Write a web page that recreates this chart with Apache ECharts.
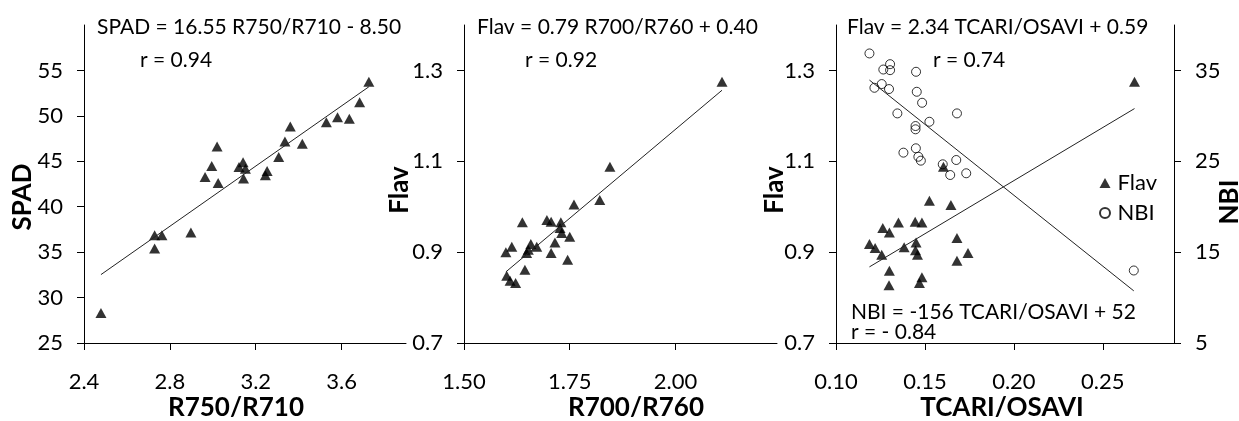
<!DOCTYPE html>
<html>
<head>
<meta charset="utf-8">
<script src="https://cdn.jsdelivr.net/npm/echarts@6/dist/echarts.min.js"></script>
<style>
  html, body { margin: 0; padding: 0; background: #fff; }
  #chart { width: 1239px; height: 421px; }
</style>
</head>
<body>
<div id="chart"></div>
<script>
// panel 1: SPAD vs R750/R710
const r750 = [2.479, 2.729, 2.729, 2.763, 2.898, 2.964, 2.995, 3.020, 3.025, 3.122, 3.141, 3.152,
  3.143, 3.245, 3.253, 3.307, 3.336, 3.361, 3.417, 3.529, 3.581, 3.636, 3.684, 3.727]
const spad = [28.3, 36.87, 35.4, 36.87, 37.17, 43.27, 44.47, 46.63, 42.6, 44.36, 44.9, 44.19,
  43.1, 43.45, 43.93, 45.46, 47.18, 48.83, 46.93, 49.3, 49.85, 49.67, 51.49, 53.75]

// panel 2: Flav vs R700/R760
const r700 = [1.638, 1.696, 1.706, 1.729, 1.760, 1.727, 1.731, 1.750, 1.715, 1.706, 1.745, 1.658,
  1.672, 1.652, 1.648, 1.613, 1.599, 1.644, 1.601, 1.609, 1.622, 1.821, 1.845, 2.110]
const flav2 = [0.966, 0.971, 0.967, 0.966, 1.005, 0.953, 0.942, 0.934, 0.921, 0.898, 0.883, 0.918,
  0.912, 0.905, 0.898, 0.912, 0.900, 0.861, 0.848, 0.837, 0.832, 1.015, 1.088, 1.275]

// panel 3: Flav and NBI vs TCARI/OSAVI
const tcariF = [0.1525, 0.1646, 0.1351, 0.1445, 0.1483, 0.1263, 0.1300, 0.1188, 0.1220, 0.1257, 0.1383, 0.1450,
  0.1447, 0.1458, 0.1680, 0.1742, 0.1680, 0.1300, 0.1298, 0.1483, 0.1469, 0.1604, 0.2678]
const flav3 = [1.013, 1.004, 0.965, 0.967, 0.965, 0.953, 0.943, 0.918, 0.909, 0.894, 0.911, 0.921,
  0.904, 0.894, 0.931, 0.898, 0.881, 0.859, 0.827, 0.845, 0.832, 1.088, 1.275]
const tcariN = [0.1188, 0.1304, 0.1266, 0.1304, 0.1450, 0.1257, 0.1216, 0.1298, 0.1454, 0.1484, 0.1345, 0.1680,
  0.1525, 0.1447, 0.1447, 0.1379, 0.1449, 0.1463, 0.1477, 0.1600, 0.1676, 0.1642, 0.1732, 0.2674]
const nbi = [36.87, 35.69, 35.1, 35.03, 34.85, 33.5, 33.09, 32.95, 32.65, 31.44, 30.27, 30.27,
  29.35, 28.88, 28.52, 25.95, 26.43, 25.5, 25.07, 24.67, 25.14, 23.49, 23.68, 12.98]

// tick labels
const ticksX1 = [2.4, 2.8, 3.2, 3.6]
const ticksY1 = [25, 30, 35, 40, 45, 50, 55]
const ticksX2 = [1.5, 1.75, 2.0]
const ticksFlav = [0.7, 0.9, 1.1, 1.3]
const ticksX3 = [0.1, 0.15, 0.2, 0.25]
const ticksNbi = [5, 15, 25, 35]

const FONT = 'Lato'

function pairs(xs, ys) {
  return xs.map((x, i) => [x, ys[i]])
}

// least squares trend line from min x to max x
function trend(xs, ys) {
  const n = xs.length
  const mx = xs.reduce((a, b) => a + b, 0) / n
  const my = ys.reduce((a, b) => a + b, 0) / n
  let sxy = 0
  let sxx = 0
  xs.forEach((x, i) => {
    sxy += (x - mx) * (ys[i] - my)
    sxx += (x - mx) * (x - mx)
  })
  const b = sxy / sxx
  const a = my - b * mx
  const x0 = Math.min(...xs)
  const x1 = Math.max(...xs)
  return [[x0, a + b * x0], [x1, a + b * x1]]
}

function valueAxis(opts) {
  return Object.assign({
    type: 'value',
    axisLine: { show: true, onZero: false, lineStyle: { color: '#000', width: 1 } },
    axisTick: { show: true, inside: false, length: 7, lineStyle: { color: '#000' } },
    splitLine: { show: false },
    axisLabel: { color: '#000', fontFamily: FONT, fontSize: 22 }
  }, opts)
}

function withTicks(axis, ticks, digits, margin) {
  axis.axisTick.customValues = ticks
  axis.axisLabel = Object.assign({}, axis.axisLabel, {
    customValues: ticks,
    margin: margin,
    formatter: v => Number(v).toFixed(digits)
  })
  return axis
}

function txt(text, x, y, size, bold, rotate, align) {
  return {
    type: 'text',
    x: x,
    y: y,
    rotation: rotate ? Math.PI / 2 : 0,
    style: {
      text: text,
      fill: '#000',
      font: (bold ? 'bold ' : '') + size + 'px ' + FONT,
      align: align || (rotate ? 'center' : 'left'),
      verticalAlign: 'middle'
    }
  }
}

const chart = echarts.init(document.getElementById('chart'))

const options = {
  backgroundColor: '#fff',
  animation: false,
  grid: [
    { left: 84, top: 25, width: 322, height: 318 },
    { left: 464, top: 25, width: 313, height: 318 },
    { left: 836, top: 25, width: 338, height: 318 }
  ],
  xAxis: [
    withTicks(valueAxis({ gridIndex: 0, min: 2.4, max: 3.9 }), ticksX1, 1, 28),
    withTicks(valueAxis({ gridIndex: 1, min: 1.5, max: 2.24 }), ticksX2, 2, 28),
    withTicks(valueAxis({ gridIndex: 2, min: 0.1, max: 0.29 }), ticksX3, 2, 28)
  ],
  yAxis: [
    withTicks(valueAxis({ gridIndex: 0, min: 25, max: 60 }), ticksY1, 0, 21),
    withTicks(valueAxis({ gridIndex: 1, min: 0.7, max: 1.4 }), ticksFlav, 1, 21),
    withTicks(valueAxis({ gridIndex: 2, min: 0.7, max: 1.4 }), ticksFlav, 1, 21),
    withTicks(valueAxis({ gridIndex: 2, min: 5, max: 40, position: 'right' }), ticksNbi, 0, 21)
  ],
  legend: {
    data: [
      { name: 'Flav', icon: 'triangle' },
      { name: 'NBI', icon: 'circle' }
    ],
    orient: 'vertical',
    left: 1094,
    top: 167,
    itemWidth: 11,
    itemHeight: 10,
    itemGap: 8,
    selectedMode: false,
    textStyle: { color: '#000', fontFamily: FONT, fontSize: 22, padding: [0, 0, 0, 2] }
  },
  series: [
    {
      name: 'SPAD', type: 'scatter', xAxisIndex: 0, yAxisIndex: 0,
      symbol: 'triangle', symbolSize: [11, 10],
      itemStyle: { color: '#000' },
      data: pairs(r750, spad)
    },
    {
      type: 'line', xAxisIndex: 0, yAxisIndex: 0, showSymbol: false, silent: true,
      lineStyle: { color: '#222', width: 1 },
      data: trend(r750, spad)
    },
    {
      name: 'Flav R700', type: 'scatter', xAxisIndex: 1, yAxisIndex: 1,
      symbol: 'triangle', symbolSize: [11, 10],
      itemStyle: { color: '#000' },
      data: pairs(r700, flav2)
    },
    {
      type: 'line', xAxisIndex: 1, yAxisIndex: 1, showSymbol: false, silent: true,
      lineStyle: { color: '#222', width: 1 },
      data: trend(r700, flav2)
    },
    {
      name: 'NBI', type: 'scatter', xAxisIndex: 2, yAxisIndex: 3,
      symbol: 'circle', symbolSize: 9,
      itemStyle: { color: 'rgba(255,255,255,0)', borderColor: '#000', borderWidth: 1 },
      data: pairs(tcariN, nbi)
    },
    {
      name: 'Flav', type: 'scatter', xAxisIndex: 2, yAxisIndex: 2,
      symbol: 'triangle', symbolSize: [11, 10],
      itemStyle: { color: '#000' },
      data: pairs(tcariF, flav3)
    },
    {
      type: 'line', xAxisIndex: 2, yAxisIndex: 2, showSymbol: false, silent: true,
      lineStyle: { color: '#222', width: 1 },
      data: trend(tcariF, flav3)
    },
    {
      type: 'line', xAxisIndex: 2, yAxisIndex: 3, showSymbol: false, silent: true,
      lineStyle: { color: '#222', width: 1 },
      data: trend(tcariN, nbi)
    }
  ],
  graphic: [
    txt('SPAD = 16.55 R750/R710 - 8.50', 97, 27, 21),
    txt('r = 0.94', 140, 60, 21),
    txt('Flav = 0.79 R700/R760 + 0.40', 477, 27, 21),
    txt('r = 0.92', 525, 60, 21),
    txt('Flav = 2.34 TCARI/OSAVI + 0.59', 847, 27, 21),
    txt('r = 0.74', 933, 60, 21),
    txt('NBI = -156 TCARI/OSAVI + 52', 851, 312, 21),
    txt('r = - 0.84', 851, 332, 21),
    txt('R750/R710', 236, 408, 26, true, false, 'center'),
    txt('R700/R760', 636, 408, 26, true, false, 'center'),
    txt('TCARI/OSAVI', 1002, 408, 26, true, false, 'center'),
    txt('SPAD', 23, 197, 26, true, true),
    txt('Flav', 400, 190, 26, true, true),
    txt('Flav', 775, 190, 26, true, true),
    txt('NBI', 1230, 202, 26, true, true)
  ]
}

chart.setOption(options)
</script>
</body>
</html>
